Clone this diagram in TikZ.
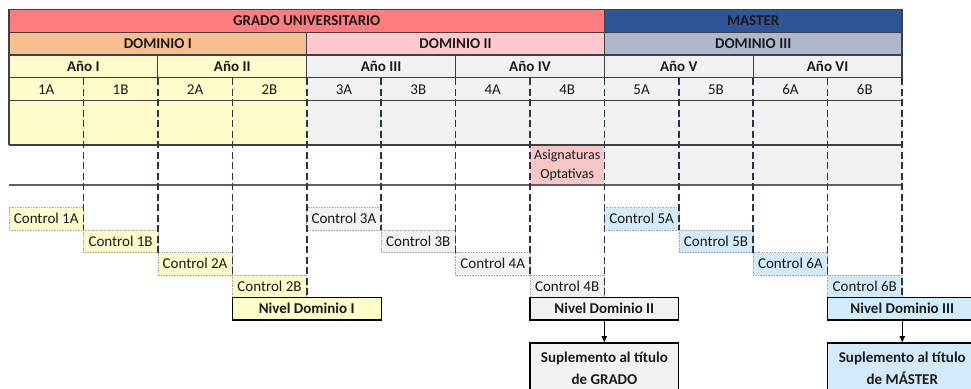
\documentclass[tikz,border=0pt]{standalone}
\usepackage{fontspec}
\setmainfont{Carlito}
\usetikzlibrary{arrows.meta}
\definecolor{grado}{HTML}{FF7C80}
\definecolor{master}{HTML}{2F5597}
\definecolor{domA}{HTML}{F8BF8E}
\definecolor{domB}{HTML}{FFC8CC}
\definecolor{domC}{HTML}{ADB9CA}
\definecolor{yel}{HTML}{FFFCCB}
\definecolor{gry}{HTML}{F2F2F2}
\definecolor{blu}{HTML}{D2EAF9}
\definecolor{pnk}{HTML}{F9C6C6}
\definecolor{lineC}{HTML}{404040}
\definecolor{dashC}{HTML}{2A3646}
\definecolor{txt}{HTML}{1A1A1A}
\newcommand\fs{\fontsize{15}{18}\selectfont}
\newcommand\mkcell[7]{%
  \pgfmathsetmacro\cw{#5-(#3)}\pgfmathsetmacro\ch{#6-(#4)}%
  \node[#2, minimum width=\cw pt, minimum height=\ch pt] (#1) at (#3pt,-#4pt) {#7};}
\tikzset{
  base/.style={inner sep=0pt, outer sep=0pt, anchor=north west, text=txt, font=\fs},
  hdr/.style={base, draw=lineC, line width=1.3pt, font=\fs\bfseries},
  plain/.style={base},
  ctrl/.style={base, draw=gray!70, densely dotted, line width=0.6pt},
  nivel/.style={base, draw=black, line width=1.2pt, font=\fs\bfseries},
  supl/.style={base, draw=black, line width=1.2pt, font=\fontsize{15}{22}\selectfont\bfseries, align=center},
  vdash/.style={draw=dashC, line width=1.6pt, dash pattern=on 7pt off 3.5pt},
  solidl/.style={draw=lineC, line width=1.3pt},
  arr/.style={draw=black, line width=1pt, -{Latex[length=7pt,width=6pt]}}
}
\begin{document}
\begin{tikzpicture}[x=1pt,y=1pt]
\useasboundingbox[fill=white] (0,0) rectangle (971,-388);
\clip (0,0) rectangle (971,-388);
% row 1
\mkcell{g}{hdr, fill=grado}{9}{9.5}{604.4}{32.5}{GRADO UNIVERSITARIO}
\mkcell{m}{hdr, fill=master}{604.4}{9.5}{902}{32.5}{MASTER}
% row 2
\mkcell{d1}{hdr, fill=domA}{9}{32.5}{306.7}{55}{DOMINIO I}
\mkcell{d2}{hdr, fill=domB}{306.7}{32.5}{604.4}{55}{DOMINIO II}
\mkcell{d3}{hdr, fill=domC}{604.4}{32.5}{902}{55}{DOMINIO III}
% row 3
\mkcell{y1}{hdr, fill=yel}{9}{55}{157.8}{78}{Año I}
\mkcell{y2}{hdr, fill=yel}{157.8}{55}{306.7}{78}{Año II}
\mkcell{y3}{hdr, fill=gry}{306.7}{55}{455.5}{78}{Año III}
\mkcell{y4}{hdr, fill=gry}{455.5}{55}{604.4}{78}{Año IV}
\mkcell{y5}{hdr, fill=gry}{604.4}{55}{753.2}{78}{Año V}
\mkcell{y6}{hdr, fill=gry}{753.2}{55}{902}{78}{Año VI}
% row 5 and 6 fills
\mkcell{r5a}{plain, fill=yel}{9}{100.5}{306.7}{145}{}
\mkcell{r5b}{plain, fill=gry}{306.7}{100.5}{902}{145}{}
\mkcell{r6c}{plain, fill=gry}{604.4}{145}{902}{185}{}
\mkcell{opt}{plain, fill=pnk, align=center, font=\fontsize{14}{19}\selectfont}{529.9}{145}{604.4}{185}{Asignaturas\\Optativas}
% row 4 semesters
\foreach \i/\l/\xl/\xr/\fc in {1/1A/9/83.4/yel, 2/1B/83.4/157.8/yel, 3/2A/157.8/232.3/yel, 4/2B/232.3/306.7/yel,
  5/3A/306.7/381.1/gry, 6/3B/381.1/455.5/gry, 7/4A/455.5/529.9/gry, 8/4B/529.9/604.4/gry,
  9/5A/604.4/678.8/gry, 10/5B/678.8/753.2/gry, 11/6A/753.2/827.6/gry, 12/6B/827.6/902/gry}{
  \mkcell{s\i}{plain, fill=\fc}{\xl}{78}{\xr}{100.5}{\l}
}
% horizontal and left lines
\draw[solidl] (s1.south west) -- (s12.south east);
\draw[solidl] (r5a.south west) -- (r5b.south east);
\draw[solidl] (s1.north west) -- (r5a.south west);
\draw[draw=gray!75!black, line width=1.1pt] (r6c.south east) -- (9,-185);
% controls
\foreach \i/\l/\xl/\xr/\lev/\fc in {1/1A/9/83.4/0/yel, 2/1B/83.4/157.8/1/yel, 3/2A/157.8/232.3/2/yel, 4/2B/232.3/306.7/3/yel,
  5/3A/306.7/381.1/0/gry, 6/3B/381.1/455.5/1/gry, 7/4A/455.5/529.9/2/gry, 8/4B/529.9/604.4/3/gry,
  9/5A/604.4/678.8/0/blu, 10/5B/678.8/753.2/1/blu, 11/6A/753.2/827.6/2/blu, 12/6B/827.6/902/3/blu}{
  \pgfmathsetmacro\yt{207.5+22.5*\lev}
  \pgfmathsetmacro\yb{\yt+22.5}
  \mkcell{c\i}{ctrl, fill=\fc}{\xl}{\yt}{\xr}{\yb}{Control \l}
}
% dashed verticals
\foreach \i in {1,...,12}{
  \draw[vdash] (s\i.north east) -- (c\i.south east);
}
% nivel boxes
\mkcell{n1}{nivel, fill=yel}{232.3}{297.5}{381.1}{320}{Nivel Dominio I}
\mkcell{n2}{nivel, fill=gry}{529.9}{297.5}{678.8}{320}{Nivel Dominio II}
\mkcell{n3}{nivel, fill=blu}{827.6}{297.5}{977}{320}{Nivel Dominio III}
% suplementos
\mkcell{sg}{supl, fill=gry}{529.9}{343}{678.8}{394}{Suplemento al título\\de GRADO}
\mkcell{sm}{supl, fill=blu}{827.6}{343}{977}{394}{Suplemento al título\\de MÁSTER}
\draw[arr] (n2.south) -- (sg.north);
\draw[arr] (n3.south) -- (sm.north);
\end{tikzpicture}
\end{document}
